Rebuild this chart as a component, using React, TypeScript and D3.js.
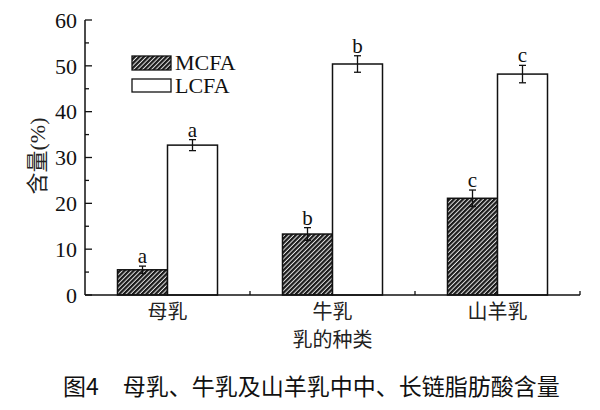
import React from "react";
import * as d3 from "d3";

const categories = ["母乳", "牛乳", "山羊乳"];
const mcfa = [5.5, 13.3, 21.1];
const mcfaErr = [0.8, 1.4, 1.8];
const mcfaSig = ["a", "b", "c"];
const lcfa = [32.7, 50.4, 48.2];
const lcfaErr = [1.2, 1.8, 1.9];
const lcfaSig = ["a", "b", "c"];
const yTicks = [0, 10, 20, 30, 40, 50, 60];
const yMinorTicks = [5, 15, 25, 35, 45, 55];

const serif = "'Liberation Serif', 'Times New Roman', 'Noto Sans CJK SC', serif";
const cjk = "'Noto Sans CJK SC', sans-serif";

const App: React.FC = () => {
  const width = 600;
  const height = 410;
  const left = 85;
  const right = 580;
  const top = 20;
  const bottom = 295;

  const x = d3.scaleBand<string>().domain(categories).range([left, right]);
  const y = d3.scaleLinear().domain([0, 60]).range([bottom, top]);
  const barW = 50;

  const series = [
    { values: mcfa, errs: mcfaErr, sig: mcfaSig, fill: "url(#hatch)", offset: -barW },
    { values: lcfa, errs: lcfaErr, sig: lcfaSig, fill: "#fff", offset: 0 },
  ];

  return (
    <svg
      width={width}
      height={height}
      style={{ position: "absolute", left: 0, top: 0, background: "#fff" }}
    >
      <defs>
        <pattern
          id="hatch"
          patternUnits="userSpaceOnUse"
          width={3.2}
          height={3.2}
          patternTransform="rotate(45)"
        >
          <rect width={3.2} height={3.2} fill="#e8e8e8" />
          <rect width={2.2} height={3.2} fill="#1a1a1a" />
        </pattern>
      </defs>

      {/* bars */}
      {series.map((s, si) =>
        categories.map((c, i) => {
          const cx = x(c)! + x.bandwidth() / 2 + s.offset;
          const v = s.values[i];
          const e = s.errs[i];
          const mid = cx + barW / 2;
          return (
            <g key={`${si}-${c}`}>
              <rect
                x={cx}
                y={y(v)}
                width={barW}
                height={y(0) - y(v)}
                fill={s.fill}
                stroke="#111"
                strokeWidth={1.5}
              />
              <line x1={mid} x2={mid} y1={y(v + e)} y2={y(v - e)} stroke="#111" strokeWidth={1.3} />
              <line x1={mid - 3.5} x2={mid + 3.5} y1={y(v + e)} y2={y(v + e)} stroke="#111" strokeWidth={1.3} />
              <line x1={mid - 3.5} x2={mid + 3.5} y1={y(v - e)} y2={y(v - e)} stroke="#111" strokeWidth={1.3} />
              <text
                x={mid}
                y={y(v + e) - 3}
                textAnchor="middle"
                fontFamily={serif}
                fontSize={21}
                fill="#111"
              >
                {s.sig[i]}
              </text>
            </g>
          );
        })
      )}

      {/* y axis */}
      <line x1={left} x2={left} y1={top} y2={bottom} stroke="#111" strokeWidth={1.5} />
      {yTicks.map((t) => (
        <g key={t}>
          <line x1={left} x2={left + 7} y1={y(t)} y2={y(t)} stroke="#111" strokeWidth={1.3} />
          <text
            x={left - 8}
            y={y(t)}
            dy="0.35em"
            textAnchor="end"
            fontFamily={serif}
            fontSize={22}
            fill="#111"
          >
            {t}
          </text>
        </g>
      ))}
      {yMinorTicks.map((t) => (
        <line key={t} x1={left} x2={left + 4} y1={y(t)} y2={y(t)} stroke="#111" strokeWidth={1.3} />
      ))}

      {/* x axis */}
      <line x1={left} x2={right} y1={bottom} y2={bottom} stroke="#111" strokeWidth={1.5} />
      {categories.map((c) => (
        <line
          key={c}
          x1={x(c)! + x.bandwidth()}
          x2={x(c)! + x.bandwidth()}
          y1={bottom}
          y2={bottom - 4}
          stroke="#111"
          strokeWidth={1.3}
        />
      ))}
      {categories.map((c) => (
        <text
          key={c}
          x={x(c)! + x.bandwidth() / 2}
          y={bottom + 17}
          dy="0.35em"
          textAnchor="middle"
          fontFamily={cjk}
          fontSize={20}
          fill="#222"
        >
          {c}
        </text>
      ))}
      <text
        x={(left + right) / 2}
        y={340}
        dy="0.35em"
        textAnchor="middle"
        fontFamily={cjk}
        fontSize={20}
        fill="#222"
      >
        乳的种类
      </text>

      {/* y label */}
      <text
        transform={`translate(37,156) rotate(-90)`}
        dy="0.35em"
        textAnchor="middle"
        fontFamily={serif}
        fontSize={22}
        fill="#222"
      >
        含量(%)
      </text>

      {/* legend */}
      <rect x={132} y={56} width={39} height={14} fill="url(#hatch)" stroke="#111" strokeWidth={1.3} />
      <text x={175} y={70} fontFamily={serif} fontSize={22} fill="#111">
        MCFA
      </text>
      <rect x={132} y={79} width={39} height={13} fill="#fff" stroke="#111" strokeWidth={1.3} />
      <text x={175} y={93} fontFamily={serif} fontSize={22} fill="#111">
        LCFA
      </text>

      {/* caption */}
      <text x={63} y={387} dy="0.35em" fontFamily={cjk} fontSize={23} fill="#111">
        图4
        <tspan dx={24}>母乳、牛乳及山羊乳中中、长链脂肪酸含量</tspan>
      </text>
    </svg>
  );
};

export default App;
